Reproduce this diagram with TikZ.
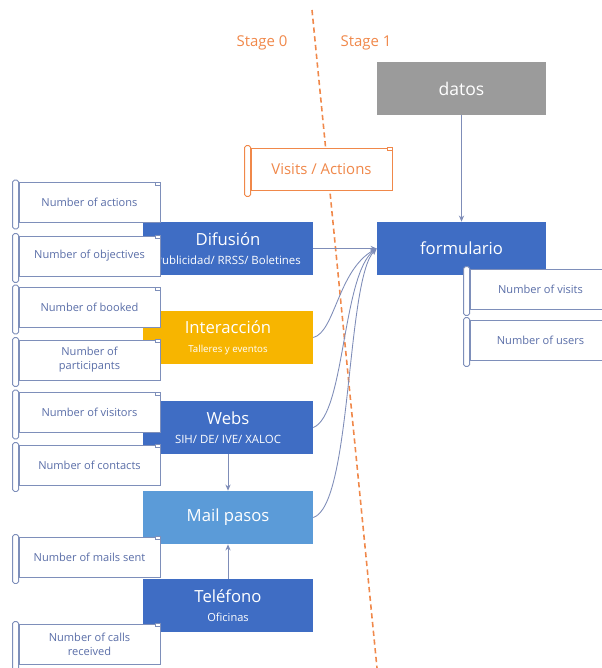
\documentclass[tikz,border=0pt]{standalone}
\usepackage{fontspec}
\setmainfont{Open Sans}
\usetikzlibrary{calc,arrows.meta}

\definecolor{boxblue}{HTML}{3F6DC4}
\definecolor{mailblue}{HTML}{5B9BD8}
\definecolor{boxyellow}{HTML}{F7B500}
\definecolor{boxgray}{HTML}{9B9B9B}
\definecolor{stageorange}{HTML}{F0884A}
\definecolor{labline}{HTML}{7E8FBA}
\definecolor{labtext}{HTML}{5A6EA8}
\definecolor{linkcol}{HTML}{7F8DB8}

% draws the rolled edges of a scroll label around an existing node
\newcommand\scrollroll[2]{%
  \draw[#1, fill=white, rounded corners=1pt]
    ($(#2.north west)+(-6,-2)$) rectangle ($(#2.south west)+(0,6)$);
  \draw[#1, fill=white]
    ($(#2.north east)+(-5,3)$) rectangle ($(#2.north east)+(0,0)$);
}

\begin{document}
\begin{tikzpicture}[x=0.02cm,y=-0.02cm,
  stagebox/.style={draw=none, minimum width=3.4cm, minimum height=1.06cm,
    text=white, align=center, inner sep=1pt},
  lab/.style={draw=labline, line width=0.5pt, fill=white, minimum width=2.82cm,
    minimum height=0.8cm, text=labtext, align=center, inner sep=1pt,
    font=\fontsize{6.3}{8}\selectfont},
  link/.style={draw=linkcol, line width=0.5pt, -{Stealth[length=3.5pt,width=3pt]}},
]
\useasboundingbox (0,0) rectangle (601,668);

% stage divider
\draw[stageorange, line width=0.9pt, densely dashed] (312,10) -- (377,668);
\node[text=stageorange, font=\fontsize{8.5}{10}\selectfont] (s0) at (262,43) {Stage 0};
\node[text=stageorange, font=\fontsize{8.5}{10}\selectfont] (s1) at (366,43) {Stage 1};

% stage 1 boxes
\node[stagebox, fill=boxgray, minimum width=3.38cm] (datos) at (461.5,88.5)
  {\fontsize{10}{11}\selectfont datos};
\node[stagebox, fill=boxblue, minimum width=3.38cm] (form) at (461.5,248.5)
  {\fontsize{9.5}{10}\selectfont formulario};

% stage 0 channels
\node[stagebox, fill=boxblue] (difu) at (228,248.5)
  {{\fontsize{9.5}{11}\selectfont Difusión}\\[-1pt]{\fontsize{6.5}{7}\selectfont Publicidad/ RRSS/ Boletines}};
\node[stagebox, fill=boxyellow] (inter) at (228,337.5)
  {{\fontsize{9.5}{11}\selectfont Interacción}\\[-1pt]{\fontsize{5.5}{6}\selectfont Talleres y eventos}};
\node[stagebox, fill=boxblue] (webs) at (228,427.5)
  {{\fontsize{9.5}{11}\selectfont Webs}\\[-1pt]{\fontsize{6.5}{7}\selectfont SIH/ DE/ IVE/ XALOC}};
\node[stagebox, fill=mailblue] (mail) at (228,517.5)
  {\fontsize{9.5}{11}\selectfont Mail pasos};
\node[stagebox, fill=boxblue] (tel) at (228,605.5)
  {{\fontsize{9.5}{11}\selectfont Teléfono}\\[-1pt]{\fontsize{6.3}{7}\selectfont Oficinas}};

% connectors
\draw[link] (datos.south) -- (form.north);
\draw[link] (difu.east) -- (form.west);
\draw[link] (inter.east) .. controls (335,332) and (338,270) .. (form.west);
\draw[link] (webs.east) .. controls (345,415) and (342,275) .. (form.west);
\draw[link] (mail.east) .. controls (352,505) and (346,280) .. (form.west);
\draw[link] (webs.south) -- (mail.north);
\draw[link] (tel.north) -- (mail.south);

% stage marker label
\node[lab, draw=stageorange, text=stageorange, minimum height=0.84cm,
  font=\fontsize{8.5}{10}\selectfont] (va) at (321.5,169) {Visits / Actions};
\scrollroll{stageorange, line width=0.5pt}{va}

% metric labels, stage 0
\node[lab] (l1) at (89.5,202.5) {Number of actions};
\scrollroll{labline, line width=0.5pt}{l1}
\node[lab] (l2) at (89.5,256) {Number of objectives};
\scrollroll{labline, line width=0.5pt}{l2}
\node[lab] (l3) at (89.5,307.5) {Number of booked};
\scrollroll{labline, line width=0.5pt}{l3}
\node[lab] (l4) at (89.5,360) {Number of\\participants};
\scrollroll{labline, line width=0.5pt}{l4}
\node[lab] (l5) at (89.5,412.5) {Number of visitors};
\scrollroll{labline, line width=0.5pt}{l5}
\node[lab] (l6) at (89.5,465) {Number of contacts};
\scrollroll{labline, line width=0.5pt}{l6}
\node[lab] (l7) at (89.5,557) {Number of mails sent};
\scrollroll{labline, line width=0.5pt}{l7}
\node[lab] (l8) at (89.5,644) {Number of calls\\received};
\scrollroll{labline, line width=0.5pt}{l8}

% metric labels, stage 1
\node[lab] (r1) at (540.5,289) {Number of visits};
\scrollroll{labline, line width=0.5pt}{r1}
\node[lab] (r2) at (540.5,340) {Number of users};
\scrollroll{labline, line width=0.5pt}{r2}
\end{tikzpicture}
\end{document}
